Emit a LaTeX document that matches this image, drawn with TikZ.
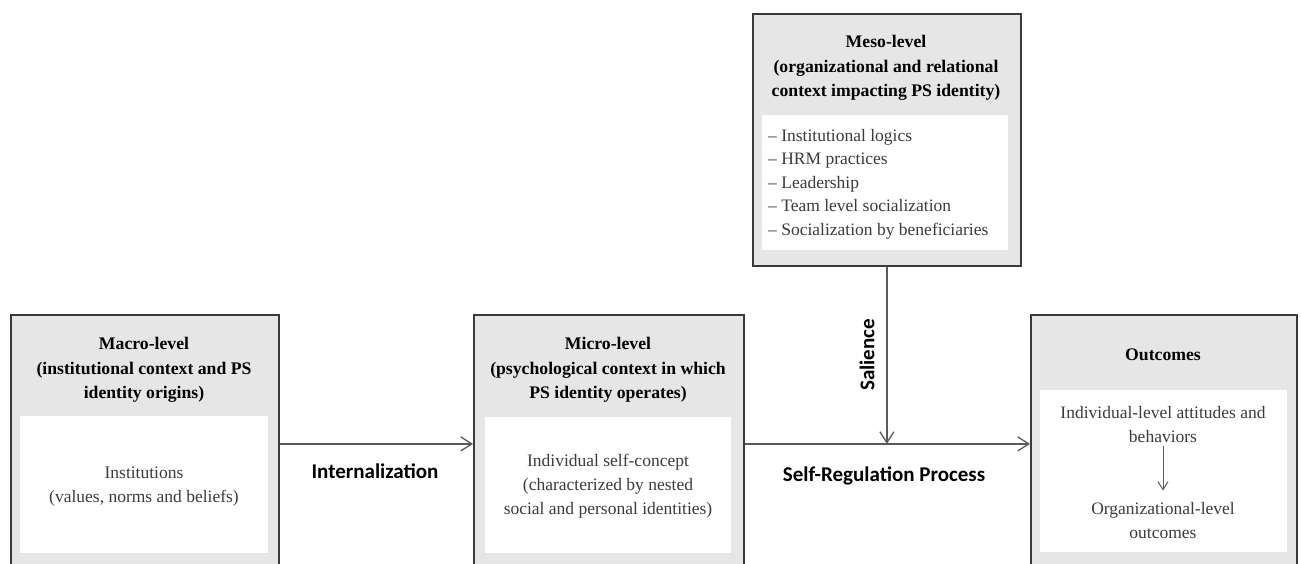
\documentclass[tikz,border=0pt]{standalone}
\usepackage{fontspec}
\setmainfont{Liberation Serif}
\newfontfamily\lblfont{Carlito}
\usetikzlibrary{arrows.meta}
\definecolor{boxgray}{HTML}{E6E6E6}
\definecolor{boxborder}{HTML}{3A3A3A}
\definecolor{linegray}{HTML}{5A5A5A}
\definecolor{bodytext}{HTML}{3C3C3C}
\begin{document}
\begin{tikzpicture}[x=1pt,y=-1pt,
  outerbox/.style={draw=boxborder, line width=1.8pt, fill=boxgray, anchor=north west, inner sep=0pt},
  innerbox/.style={fill=white, anchor=north west, inner sep=0pt},
  titletext/.style={align=center, font=\bfseries\fontsize{17.7}{24.5}\selectfont, text=black, inner sep=0pt},
  bodytxt/.style={align=center, font=\fontsize{17.5}{24}\selectfont, text=bodytext, inner sep=0pt},
  lbl/.style={font=\lblfont\bfseries\fontsize{21}{24}\selectfont, text=black, inner sep=0pt},
  conn/.style={draw=linegray, line width=1.3pt, -{Straight Barb[length=11pt,width=14pt]}},
  smallconn/.style={draw=linegray, line width=1pt, -{Straight Barb[length=8pt,width=10pt]}}
]
\useasboundingbox (0,0) rectangle (1301,563);
\clip (0,0) rectangle (1301,563);
\fill[white] (0,0) rectangle (1301,563);

% Macro-level
\node[outerbox, minimum width=268pt, minimum height=258pt] (macro) at (10,314) {};
\node[innerbox, minimum width=248pt, minimum height=137pt] (macroin) at (20,416) {};
\node[titletext] (macrot) at (144,370) {Macro-level\\(institutional context and PS\\identity origins)};
\node[bodytxt] (macrob) at (144,487) {Institutions\\(values, norms and beliefs)};

% Micro-level
\node[outerbox, minimum width=270pt, minimum height=258pt] (micro) at (473,314) {};
\node[innerbox, minimum width=246pt, minimum height=136pt] (microin) at (485,417) {};
\node[titletext] (microt) at (608,370) {Micro-level\\(psychological context in which\\PS identity operates)};
\node[bodytxt] (microb) at (608,486) {Individual self-concept\\(characterized by nested\\social and personal identities)};

% Meso-level
\node[outerbox, minimum width=268pt, minimum height=252pt] (meso) at (752,13) {};
\node[innerbox, minimum width=246pt, minimum height=135pt] (mesoin) at (762,115) {};
\node[titletext] (mesot) at (886,68) {Meso-level\\(organizational and relational\\context impacting PS identity)};
\node[bodytxt, align=left, anchor=west, font=\fontsize{17.5}{23.5}\selectfont] (mesob) at (768,184) {-- Institutional logics\\-- HRM practices\\-- Leadership\\-- Team level socialization\\-- Socialization by beneficiaries};

% Outcomes
\node[outerbox, minimum width=266pt, minimum height=258pt] (outcomes) at (1030,314) {};
\node[innerbox, minimum width=247pt, minimum height=162pt] (outin) at (1040,390) {};
\node[titletext] (outt) at (1163,355) {Outcomes};
\node[bodytxt, inner ysep=3pt] (outa) at (1163,425) {Individual-level attitudes and\\behaviors};
\node[bodytxt, inner ysep=3pt] (outb) at (1163,521) {Organizational-level\\outcomes};
\draw[smallconn, shorten >=9pt] (outa.south) -- (outb.north);

% Connectors
\coordinate (sal) at (meso.south |- micro.east);
\draw[conn] (macro.east) -- (micro.west);
\draw[conn] (micro.east) -- (outcomes.west);
\draw[conn] (meso.south) -- (sal);

% Labels
\node[lbl] (internal) at (375,471) {Internalization};
\node[lbl] (selfreg) at (884,476) {Self-Regulation Process};
\node[lbl, rotate=90] (salience) at (867,355) {Salience};
\end{tikzpicture}
\end{document}
